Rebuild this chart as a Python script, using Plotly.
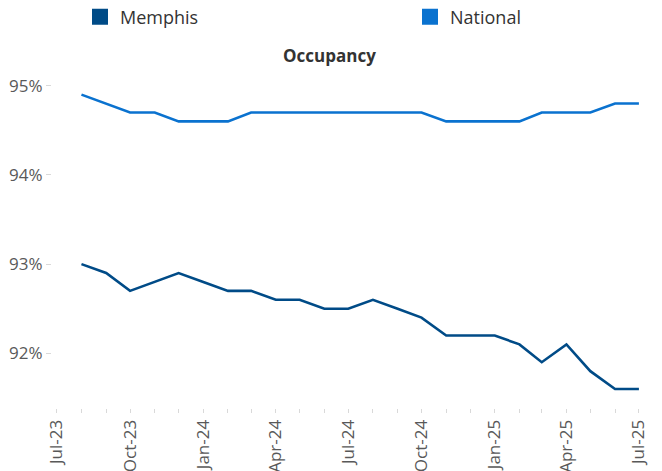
import plotly.graph_objects as go

months = ["2023-08-01", "2023-09-01", "2023-10-01", "2023-11-01", "2023-12-01",
          "2024-01-01", "2024-02-01", "2024-03-01", "2024-04-01", "2024-05-01",
          "2024-06-01", "2024-07-01", "2024-08-01", "2024-09-01", "2024-10-01",
          "2024-11-01", "2024-12-01", "2025-01-01", "2025-02-01", "2025-03-01",
          "2025-04-01", "2025-05-01", "2025-06-01", "2025-07-01"]
memphis = [93.0, 92.9, 92.7, 92.8, 92.9, 92.8, 92.7, 92.7, 92.6, 92.6, 92.5, 92.5,
           92.6, 92.5, 92.4, 92.2, 92.2, 92.2, 92.1, 91.9, 92.1, 91.8, 91.6, 91.6]
national = [94.9, 94.8, 94.7, 94.7, 94.6, 94.6, 94.6, 94.7, 94.7, 94.7, 94.7, 94.7,
            94.7, 94.7, 94.7, 94.6, 94.6, 94.6, 94.6, 94.7, 94.7, 94.7, 94.8, 94.8]
y_ticks = [92, 93, 94, 95]
y_labels = ["92%", "93%", "94%", "95%"]

MEM_C = "#004B87"
NAT_C = "#0A72CF"
FONT = "Open Sans"
W, H = 654, 463  # page body has an 8px default margin

fig = go.Figure()
fig.add_trace(go.Scatter(x=months, y=memphis, mode="lines", name="Memphis",
                         line=dict(color=MEM_C, width=2.6), showlegend=False))
fig.add_trace(go.Scatter(x=months, y=national, mode="lines", name="National",
                         line=dict(color=NAT_C, width=2.6), showlegend=False))
# legend entries as squares
fig.add_trace(go.Scatter(x=[None], y=[None], mode="markers", name="Memphis", legend="legend",
                         marker=dict(symbol="square", size=16, color=MEM_C)))
fig.add_trace(go.Scatter(x=[None], y=[None], mode="markers", name="National", legend="legend2",
                         marker=dict(symbol="square", size=16, color=NAT_C)))

leg_common = dict(orientation="h", xanchor="left", xref="container",
                  y=1 - 9 / H, yref="container", yanchor="middle",
                  font=dict(family=FONT, size=18, color="#333333"),
                  bgcolor="rgba(0,0,0,0)", borderwidth=0)

fig.update_layout(
    template="none",
    width=W, height=H,
    margin=dict(l=44, r=0, t=62, b=63, autoexpand=False),
    paper_bgcolor="white", plot_bgcolor="white",
    font=dict(family=FONT, color="#595959"),
    title=dict(text="<b>Occupancy</b>", x=321.5 / W, xref="container", xanchor="center",
               y=1 - 48 / H, yref="container", yanchor="middle",
               font=dict(family=FONT, size=17, color="#333333")),
    legend=dict(x=72 / W, **leg_common),
    legend2=dict(x=402 / W, **leg_common),
    showlegend=True,
)
fig.update_xaxes(
    type="date", range=["2023-06-25", "2025-07-30"], automargin=False,
    tick0="2023-07-01", dtick="M3", tickformat="%b-%y", tickangle=-90,
    ticks="outside", ticklen=4, tickcolor="#d9d9d9",
    minor=dict(dtick="M1", tick0="2023-07-01", ticks="outside", ticklen=4, tickcolor="#d9d9d9", showgrid=False),
    showgrid=False, showline=False, zeroline=False,
    tickfont=dict(family=FONT, size=17, color="#595959"),
)
fig.update_yaxes(
    range=[91.387, 95.176], tickvals=y_ticks, ticktext=y_labels, automargin=False,
    ticks="outside", ticklen=5, tickcolor="#d9d9d9",
    showgrid=False, showline=False, zeroline=False,
    tickfont=dict(family=FONT, size=17, color="#595959"),
)
fig.write_html("out.html")
